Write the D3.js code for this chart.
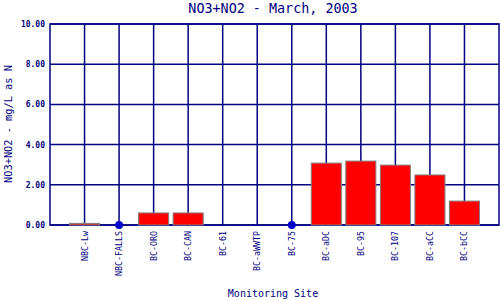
<!DOCTYPE html>
<html lang="en">
<head>
  <meta charset="UTF-8">
  <title>NO3+NO2 - March, 2003</title>
  <script src="https://cdn.jsdelivr.net/npm/d3@7"></script>
  <style>
  body { margin: 0; background: #fff; }
  text { font-family: "DejaVu Sans Mono", monospace; fill: #000080; }
  </style>
</head>
<body>
<script type="text/javascript">
// data (null = no sample, drawn as a dot)
let sites = ['NBC-Lw', 'NBC-FALLS', 'BC-ORO', 'BC-CAN', 'BC-61', 'BC-aWWTP',
  'BC-75', 'BC-aDC', 'BC-95', 'BC-107', 'BC-aCC', 'BC-bCC'];
let values = [0.08, null, 0.6, 0.6, 0, 0, null, 3.08, 3.18, 2.98, 2.49, 1.19];
let yTicks = [0, 2, 4, 6, 8, 10];

let width = 500;
let height = 300;
let margin = {top: 24, right: 1, bottom: 75, left: 50};
let navy = '#000080';

let svg = d3.select('body').append('svg')
  .attr('width', width)
  .attr('height', height);

let x = d3.scalePoint()
  .domain(sites)
  .range([margin.left, width - margin.right])
  .padding(1);

let y = d3.scaleLinear()
  .domain([0, 10])
  .range([height - margin.bottom, margin.top]);

let barW = x.step() * 0.87;

// grid
svg.append('g')
  .selectAll('line.h')
  .data(yTicks)
  .enter().append('line')
  .attr('x1', margin.left)
  .attr('x2', width - margin.right)
  .attr('y1', d => y(d))
  .attr('y2', d => y(d))
  .attr('stroke', navy)
  .attr('stroke-width', 1.5);

svg.append('g')
  .selectAll('line.v')
  .data(sites)
  .enter().append('line')
  .attr('x1', d => x(d))
  .attr('x2', d => x(d))
  .attr('y1', y(0))
  .attr('y2', y(10))
  .attr('stroke', navy)
  .attr('stroke-width', 1.5);

svg.append('rect')
  .attr('x', margin.left)
  .attr('y', y(10))
  .attr('width', width - margin.right - margin.left)
  .attr('height', y(0) - y(10))
  .attr('fill', 'none')
  .attr('stroke', navy)
  .attr('stroke-width', 1.5);

// bars
let data = sites.map((s, i) => ({site: s, v: values[i]}));

svg.append('g')
  .selectAll('rect')
  .data(data.filter(d => d.v !== null))
  .enter().append('rect')
  .attr('x', d => x(d.site) - barW / 2)
  .attr('y', d => y(d.v))
  .attr('width', barW)
  .attr('height', d => y(0) - y(d.v))
  .attr('fill', '#ff0000')
  .attr('stroke', '#808080')
  .attr('stroke-width', 1);

svg.append('g')
  .selectAll('circle')
  .data(data.filter(d => d.v === null))
  .enter().append('circle')
  .attr('cx', d => x(d.site))
  .attr('cy', y(0))
  .attr('r', 4)
  .attr('fill', '#0000cc');

// y tick labels
svg.append('g')
  .selectAll('text')
  .data(yTicks)
  .enter().append('text')
  .attr('x', 45)
  .attr('y', d => y(d) + 3)
  .attr('text-anchor', 'end')
  .attr('font-size', 8)
  .attr('font-weight', 'bold')
  .text(d => d.toFixed(2));

// x labels
svg.append('g')
  .selectAll('text')
  .data(sites)
  .enter().append('text')
  .attr('transform', d => 'translate(' + (x(d) + 3) + ',' + (y(0) + 6) + ') rotate(-90)')
  .attr('text-anchor', 'end')
  .attr('font-size', 8.3)
  .text(d => d);

// titles
svg.append('text')
  .attr('x', 273)
  .attr('y', 13)
  .attr('text-anchor', 'middle')
  .attr('font-size', 13.4)
  .text('NO3+NO2 - March, 2003');

svg.append('text')
  .attr('x', 273)
  .attr('y', 297)
  .attr('text-anchor', 'middle')
  .attr('font-size', 10)
  .text('Monitoring Site');

svg.append('text')
  .attr('transform', 'translate(12,124) rotate(-90)')
  .attr('text-anchor', 'middle')
  .attr('font-size', 10.3)
  .text('NO3+NO2 - mg/L as N');
</script>
</body>
</html>
